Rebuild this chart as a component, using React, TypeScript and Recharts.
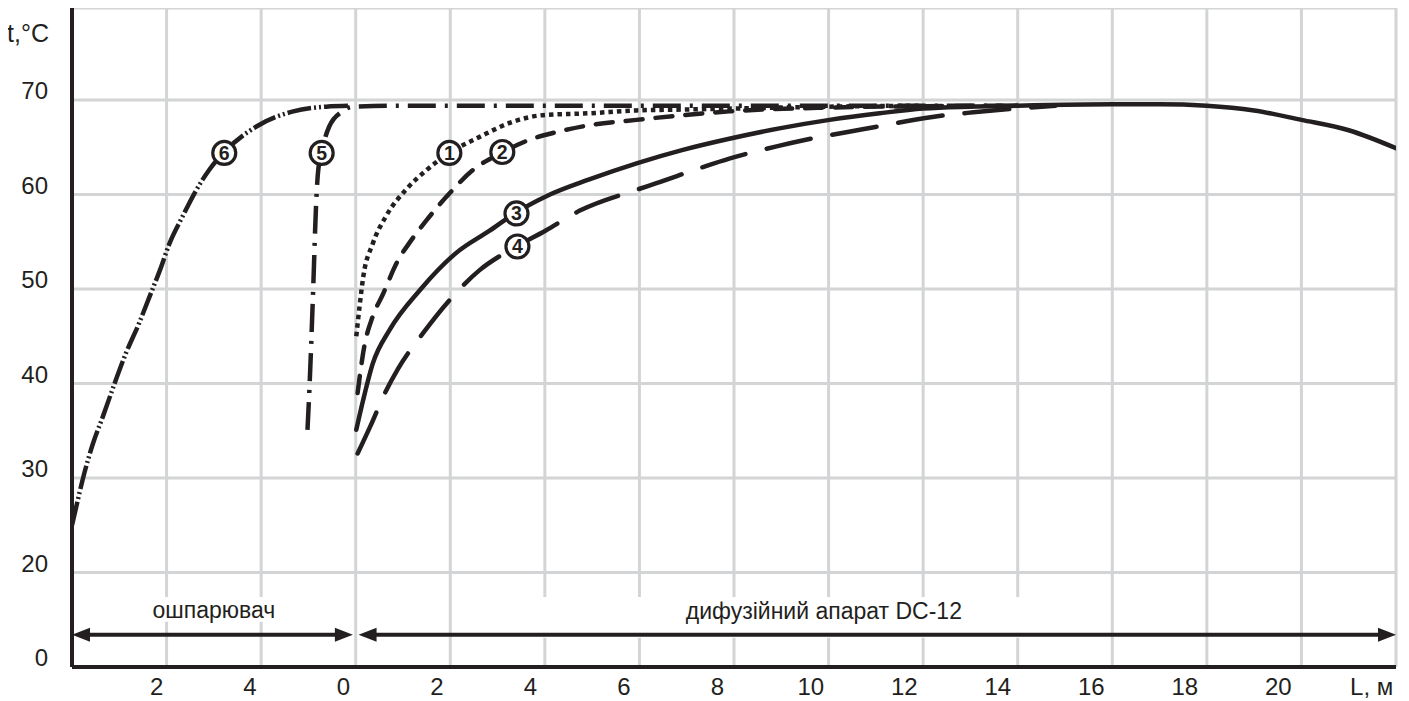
import React from 'react';
import {
  LineChart,
  Line,
  XAxis,
  YAxis,
  CartesianGrid,
  ReferenceDot,
  ReferenceLine,
  ReferenceArea,
} from 'recharts';

const INK = '#231f20';
const GRID = '#d3d4d6';
const FONT = '"Liberation Sans", Arial, Helvetica, sans-serif';

// Axis ticks (x axis in grid cells; labels follow the original drawing)
const xTickValues = [1, 2, 3, 4, 5, 6, 7, 8, 9, 10, 11, 12, 13, 14];
const xTickLabels = ['2', '4', '0', '2', '4', '6', '8', '10', '12', '14', '16', '18', '20', 'L, м'];
const yTickValues = [10, 20, 30, 40, 50, 60, 70];
const yTickLabels = ['0', '20', '30', '40', '50', '60', '70'];

// Curve 1 (dotted)
const curve1X = [3.006, 3.04, 3.08, 3.18, 3.32, 3.53, 3.75, 3.99, 4.31, 4.66, 4.98, 5.47, 5.97, 6.5, 7.0, 8.0, 9.0];
const curve1T = [45.0, 48.1, 51.3, 54.8, 57.7, 60.5, 62.6, 64.4, 66.1, 67.7, 68.4, 68.6, 68.9, 69.0, 69.1, 69.3, 69.4];

// Curve 2 (dashed)
const curve2X = [3.02, 3.09, 3.18, 3.29, 3.43, 3.59, 3.75, 3.99, 4.24, 4.54, 4.84, 5.12, 5.51, 5.97, 6.46, 6.95, 8.0, 9.0, 10.0];
const curve2T = [39.0, 43.9, 47.1, 49.5, 52.7, 55.2, 57.3, 60.1, 62.6, 64.4, 65.8, 66.6, 67.4, 67.9, 68.4, 68.8, 69.2, 69.35, 69.4];

// Curve 3 (solid, continues to the end of the apparatus)
const curve3X = [3.006, 3.08, 3.18, 3.36, 3.68, 4.06, 4.42, 4.68, 5.01, 5.47, 5.97, 6.45, 6.95, 7.48, 8.01, 8.54, 9.0, 9.5, 10.0, 10.5, 11.0, 11.5, 12.0, 12.5, 13.0, 13.5, 14.0];
const curve3T = [35.1, 38.3, 42.1, 45.7, 49.9, 53.8, 56.2, 58.0, 59.8, 61.6, 63.3, 64.7, 65.9, 67.0, 67.9, 68.6, 69.1, 69.3, 69.4, 69.5, 69.55, 69.55, 69.4, 68.9, 67.9, 66.8, 64.9];

// Curve 4 (long dash)
const curve4X = [3.02, 3.16, 3.3, 3.45, 3.71, 3.99, 4.31, 4.59, 5.01, 5.37, 5.97, 6.18, 6.67, 6.95, 7.45, 7.76, 8.36, 8.68, 9.24, 9.53, 9.98, 10.4];
const curve4T = [32.6, 35.6, 38.8, 41.6, 45.3, 48.8, 52.0, 53.9, 56.2, 58.3, 60.5, 61.2, 62.9, 63.8, 65.1, 65.8, 66.9, 67.5, 68.4, 68.7, 69.1, 69.4];

// Curve 5 (dash-dot, scalder then level through the apparatus)
const curve5X = [2.49, 2.51, 2.55, 2.58, 2.6, 2.64, 2.72, 2.86, 2.97, 3.5, 5.0, 7.0, 9.0, 10.0];
const curve5T = [35.1, 39.3, 49.9, 58.7, 62.2, 64.5, 67.2, 68.8, 69.3, 69.4, 69.4, 69.4, 69.4, 69.4];

// Curve 6 (dash-dot-dot, scalder)
const curve6X = [0.0, 0.03, 0.13, 0.22, 0.33, 0.45, 0.57, 0.71, 0.82, 0.93, 1.03, 1.17, 1.31, 1.45, 1.6, 1.95, 2.34, 2.69, 2.94];
const curve6T = [25.0, 26.3, 30.5, 33.6, 36.6, 40.0, 43.2, 46.4, 49.2, 52.0, 54.8, 57.7, 60.4, 62.6, 64.4, 67.2, 68.8, 69.3, 69.4];

// Circled curve numbers
const badgeLabels = ['1', '2', '3', '4', '5', '6'];
const badgeX = [3.99, 4.55, 4.7, 4.71, 2.64, 1.61];
const badgeT = [64.4, 64.5, 58.0, 54.5, 64.4, 64.4];

// Zone annotations
const arrowT = 13.4;
const scalderSpan = [0, 2.97];
const diffuserSpan = [3.03, 14];
const scalderText = 'ошпарювач';
const diffuserText = 'дифузійний апарат DC-12';
const scalderTextPos = [1.5, 15.2];
const diffuserTextPos = [7.95, 15.1];

const toData = (xs: number[], ts: number[]) => xs.map((x, i) => ({ x, t: ts[i] }));

const XTick = (props: any) => {
  const { x, index } = props;
  const dx = -(10 + index * 1.1);
  return (
    <text x={x + dx} y={695} textAnchor="middle" fontSize={24} fontFamily={FONT} fill={INK}>
      {xTickLabels[index]}
    </text>
  );
};

const YTick = (props: any) => {
  const { y, index } = props;
  return (
    <text x={48} y={y - 1} textAnchor="end" fontSize={24} fontFamily={FONT} fill={INK}>
      {yTickLabels[index]}
    </text>
  );
};

const YTitle = (props: any) => {
  const vb = props.viewBox || { x: 0, y: 8 };
  return (
    <text x={vb.x + 7} y={vb.y + 34} fontSize={25} fontFamily={FONT} fill={INK}>
      t,°C
    </text>
  );
};

const badgeShape = (label: string) => (p: any) => (
  <g>
    <circle cx={p.cx} cy={p.cy} r={11.5} fill="#fff" stroke={INK} strokeWidth={3.2} />
    <text x={p.cx} y={p.cy + 6.8} textAnchor="middle" fontSize={19.5} fontWeight="bold" fontFamily={FONT} fill={INK}>
      {label}
    </text>
  </g>
);

const textShape = (label: string) => (p: any) => (
  <text x={p.cx} y={p.cy} textAnchor="middle" fontSize={23} fontFamily={FONT} fill={INK}>
    {label}
  </text>
);

const headLeft = (p: any) => (
  <polygon points={`${p.cx},${p.cy} ${p.cx + 18},${p.cy - 7} ${p.cx + 18},${p.cy + 7}`} fill={INK} />
);
const headRight = (p: any) => (
  <polygon points={`${p.cx},${p.cy} ${p.cx - 18},${p.cy - 7} ${p.cx - 18},${p.cy + 7}`} fill={INK} />
);

const lineCommon = {
  dataKey: 't',
  type: 'monotone' as const,
  stroke: INK,
  strokeWidth: 4.5,
  dot: false,
  activeDot: false,
  isAnimationActive: false,
};

export default function App() {
  const d1 = toData(curve1X, curve1T);
  const d2 = toData(curve2X, curve2T);
  const d3 = toData(curve3X, curve3T);
  const d4 = toData(curve4X, curve4T);
  const d5 = toData(curve5X, curve5T);
  const d6 = toData(curve6X, curve6T);
  const frame = { stroke: INK, strokeWidth: 4 };

  return (
    <div style={{ marginTop: -8, marginLeft: -8, width: 1409, height: 701, background: '#fff' }}>
      <LineChart width={1409} height={701} margin={{ top: 8, right: 13, bottom: 0, left: 0 }}>
        <CartesianGrid stroke={GRID} strokeWidth={3} />
        <XAxis
          xAxisId={0}
          type="number"
          dataKey="x"
          domain={[0, 14]}
          ticks={xTickValues}
          interval={0}
          allowDataOverflow
          height={34}
          axisLine={frame}
          tickLine={false}
          tick={<XTick />}
        />
        <XAxis
          xAxisId="top"
          orientation="top"
          type="number"
          dataKey="x"
          domain={[0, 14]}
          height={0}
          axisLine={frame}
          tickLine={false}
          tick={false}
        />
        <YAxis
          yAxisId={0}
          type="number"
          domain={[10, 79.74]}
          ticks={yTickValues}
          interval={0}
          allowDataOverflow
          width={72}
          axisLine={frame}
          tickLine={false}
          tick={<YTick />}
          label={<YTitle />}
        />
        <YAxis
          yAxisId="right"
          orientation="right"
          type="number"
          domain={[10, 79.74]}
          width={0}
          axisLine={frame}
          tickLine={false}
          tick={false}
        />

        <ReferenceArea x1={0.3} x2={2.72} y1={14.8} y2={17.4} fill="#fff" fillOpacity={1} stroke="none" />
        <ReferenceArea x1={4.2} x2={10.5} y1={13.1} y2={17.4} fill="#fff" fillOpacity={1} stroke="none" />

        <Line {...lineCommon} data={d6} strokeDasharray="24 3 2 3 2 3" />
        <Line {...lineCommon} data={d5} strokeDasharray="28 9 3 9" />
        <Line {...lineCommon} data={d1} strokeDasharray="4.5 4" />
        <Line {...lineCommon} data={d2} strokeDasharray="17 13" strokeLinecap="round" />
        <Line {...lineCommon} data={d4} strokeDasharray="45 22" strokeLinecap="round" />
        <Line {...lineCommon} data={d3} strokeLinecap="round" />

        <ReferenceLine
          segment={[{ x: scalderSpan[0] + 0.1, y: arrowT }, { x: scalderSpan[1] - 0.1, y: arrowT }]}
          stroke={INK}
          strokeWidth={4}
        />
        <ReferenceLine
          segment={[{ x: diffuserSpan[0] + 0.1, y: arrowT }, { x: diffuserSpan[1] - 0.1, y: arrowT }]}
          stroke={INK}
          strokeWidth={4}
        />
        <ReferenceDot x={scalderSpan[0]} y={arrowT} r={1} shape={headLeft} />
        <ReferenceDot x={scalderSpan[1]} y={arrowT} r={1} shape={headRight} />
        <ReferenceDot x={diffuserSpan[0]} y={arrowT} r={1} shape={headLeft} />
        <ReferenceDot x={diffuserSpan[1]} y={arrowT} r={1} shape={headRight} />
        <ReferenceDot x={scalderTextPos[0]} y={scalderTextPos[1]} r={1} shape={textShape(scalderText)} />
        <ReferenceDot x={diffuserTextPos[0]} y={diffuserTextPos[1]} r={1} shape={textShape(diffuserText)} />

        {badgeLabels.map((lab, i) => (
          <ReferenceDot key={lab} x={badgeX[i]} y={badgeT[i]} r={11} shape={badgeShape(lab)} />
        ))}
      </LineChart>
    </div>
  );
}
